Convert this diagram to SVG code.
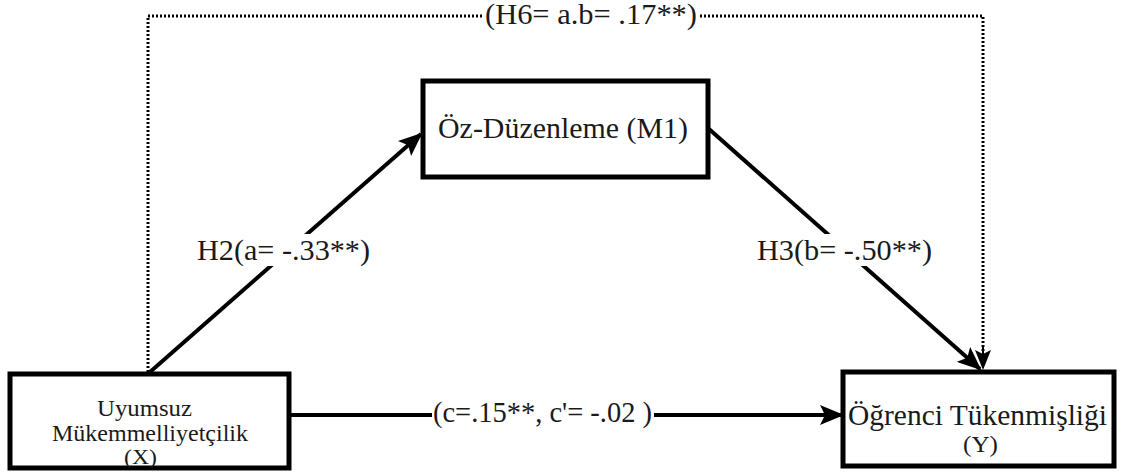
<svg xmlns="http://www.w3.org/2000/svg" width="1121" height="474" viewBox="0 0 1121 474">
<defs>
<style>
.box{fill:#fff;stroke:#000;stroke-width:5}
.t{font-family:"Liberation Serif","Times New Roman",serif;fill:#1a1a1a}
.lbl{font-size:29px}
.sm{font-size:24px}
.xs{font-size:22px}
.ln{stroke:#000;stroke-width:4;fill:none}
.dot{stroke:#000;stroke-width:3;fill:none;stroke-dasharray:2 2}
.bg{fill:#fff}
</style>
<marker id="ah" viewBox="0 0 24 20" refX="22" refY="10" markerWidth="24" markerHeight="20" markerUnits="userSpaceOnUse" orient="auto">
<path d="M0,0 L24,10 L0,20 L5,10 Z" fill="#000"/>
</marker>
<marker id="ahs" viewBox="0 0 20 16" refX="18" refY="8" markerWidth="20" markerHeight="16" markerUnits="userSpaceOnUse" orient="auto">
<path d="M0,0 L20,8 L0,16 L4,8 Z" fill="#000"/>
</marker>
</defs>
<rect width="1121" height="474" fill="#fff"/>
<g id="connectors">
<polyline class="dot" points="148,372 148,16 983,16 983,352"/>
<line x1="983" y1="345" x2="983" y2="368" stroke="#000" stroke-width="2" marker-end="url(#ahs)"/>
<line class="ln" x1="150" y1="372" x2="421" y2="134" marker-end="url(#ah)"/>
<line class="ln" x1="709" y1="129" x2="980" y2="369" marker-end="url(#ah)"/>
<line class="ln" x1="289" y1="415" x2="842" y2="415" marker-end="url(#ah)"/>
<rect class="bg" x="482" y="4" width="218" height="26"/>
<text class="t lbl" x="485" y="24" textLength="212" lengthAdjust="spacingAndGlyphs">(H6= a.b= .17**)</text>
<rect class="bg" x="195" y="234" width="178" height="32"/>
<text class="t lbl" x="197" y="260" textLength="173" lengthAdjust="spacingAndGlyphs">H2(a= -.33**)</text>
<rect class="bg" x="755" y="234" width="180" height="32"/>
<text class="t lbl" x="757" y="260" textLength="175" lengthAdjust="spacingAndGlyphs">H3(b= -.50**)</text>
<rect class="bg" x="432" y="398" width="222" height="32"/>
<text class="t lbl" x="433" y="422" textLength="219" lengthAdjust="spacingAndGlyphs">(c=.15**, c'= -.02 )</text>
</g>
<g id="node-m1">
<rect class="box" x="423" y="81" width="285" height="96"/>
<text class="t lbl" x="438" y="138" textLength="250" lengthAdjust="spacingAndGlyphs">Öz-Düzenleme (M1)</text>
</g>
<g id="node-x">
<rect class="box" x="10" y="374" width="279" height="94"/>
<text class="t sm" x="97" y="416" textLength="95" lengthAdjust="spacingAndGlyphs">Uyumsuz</text>
<text class="t sm" x="52" y="441" textLength="196" lengthAdjust="spacingAndGlyphs">Mükemmelliyetçilik</text>
<text class="t xs" x="124" y="464" textLength="33" lengthAdjust="spacingAndGlyphs">(X)</text>
</g>
<g id="node-y">
<rect class="box" x="843" y="372" width="271" height="94"/>
<text class="t lbl" x="848" y="425" textLength="259" lengthAdjust="spacingAndGlyphs">Öğrenci Tükenmişliği</text>
<text class="t sm" x="963" y="452" textLength="35" lengthAdjust="spacingAndGlyphs">(Y)</text>
</g>
</svg>
